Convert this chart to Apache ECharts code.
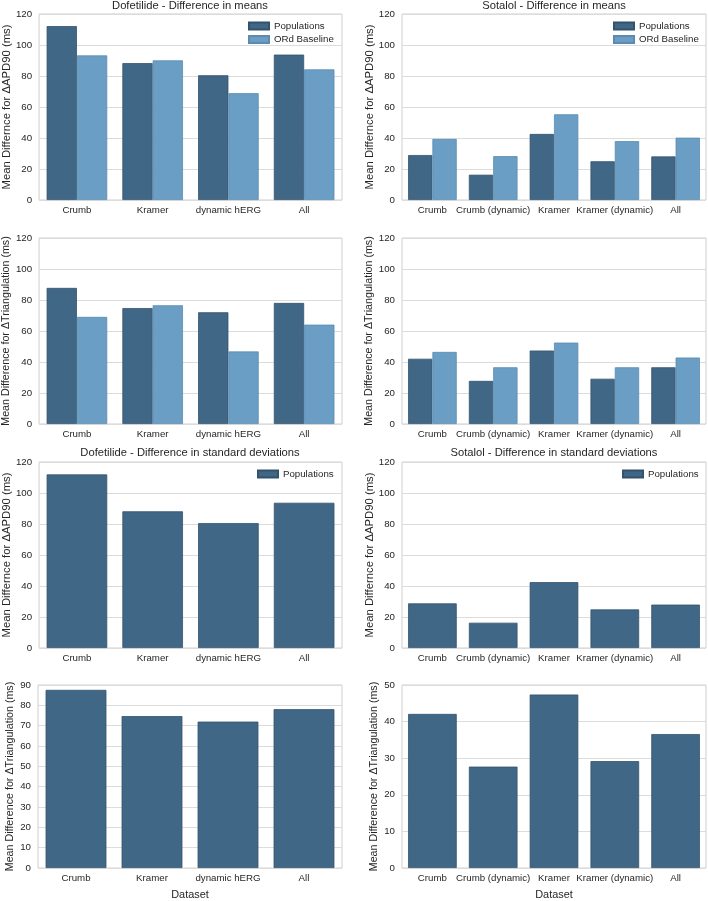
<!DOCTYPE html>
<html>
<head>
<meta charset="utf-8">
<script src="https://cdn.jsdelivr.net/npm/echarts@6/dist/echarts.min.js"></script>
<style>
html,body{margin:0;padding:0;background:#fff;}
#main{width:708px;height:901px;}
</style>
</head>
<body>
<div id="main"></div>
<script>
// ---- data ----
const dofCats = ['Crumb', 'Kramer', 'dynamic hERG', 'All'];
const sotCats = ['Crumb', 'Crumb (dynamic)', 'Kramer', 'Kramer (dynamic)', 'All'];

const dofApdPop = [112.2, 88.3, 80.5, 93.8];
const dofApdOrd = [93.3, 90.1, 68.9, 84.3];
const sotApdPop = [29.0, 16.3, 42.6, 25.0, 28.1];
const sotApdOrd = [39.4, 28.3, 55.3, 38.0, 40.2];

const dofTriPop = [87.8, 74.8, 72.1, 78.1];
const dofTriOrd = [69.1, 76.6, 46.8, 64.1];
const sotTriPop = [42.1, 27.8, 47.4, 29.2, 36.6];
const sotTriOrd = [46.5, 36.6, 52.5, 36.6, 42.9];

const dofApdStd = [112.0, 88.2, 80.6, 93.7];
const sotApdStd = [28.8, 16.3, 42.5, 24.9, 28.0];
const dofTriStd = [87.6, 74.7, 72.0, 78.1];
const sotTriStd = [42.1, 27.7, 47.4, 29.2, 36.6];

const titles = ['Dofetilide - Difference in means', 'Sotalol - Difference in means',
                'Dofetilide - Difference in standard deviations', 'Sotalol - Difference in standard deviations'];
const yNameApd = 'Mean Differnce for \u0394APD90 (ms)';
const yNameTri = 'Mean Difference for \u0394Triangulation (ms)';
const seriesNames = ['Populations', 'ORd Baseline'];

// ---- style ----
const FONT = '"Liberation Sans", Arial, sans-serif';
const TXT = '#262626';
const DARK = '#416786';
const LIGHT = '#6a9ec5';
const DARK_EDGE = '#33536d';
const LIGHT_EDGE = '#5b8bb0';

const colLeft = [38, 402];
const colWidth = 304;
const rowTop = [14, 238, 462, 685];
const rowH = [186, 186, 186, 187];
const titleCenter = [6.5, null, 453.5, null];

const panels = [
  {r:0,c:0,cats:dofCats,data:[dofApdPop,dofApdOrd],max:120,interval:20,yName:yNameApd,nameSize:11.3,title:titles[0],legend:248,nameGap:25},
  {r:0,c:1,cats:sotCats,data:[sotApdPop,sotApdOrd],max:120,interval:20,yName:yNameApd,nameSize:11.3,title:titles[1],legend:613,nameGap:25},
  {r:1,c:0,cats:dofCats,data:[dofTriPop,dofTriOrd],max:120,interval:20,yName:yNameTri,nameSize:10.7,nameGap:25},
  {r:1,c:1,cats:sotCats,data:[sotTriPop,sotTriOrd],max:120,interval:20,yName:yNameTri,nameSize:10.7,nameGap:25},
  {r:2,c:0,cats:dofCats,data:[dofApdStd],max:120,interval:20,yName:yNameApd,nameSize:11.3,title:titles[2],legend:257,nameGap:25},
  {r:2,c:1,cats:sotCats,data:[sotApdStd],max:120,interval:20,yName:yNameApd,nameSize:11.3,title:titles[3],legend:622,nameGap:25},
  {r:3,c:0,cats:dofCats,data:[dofTriStd],max:90,interval:10,yName:yNameTri,nameSize:10.7,xName:'Dataset',nameGap:22},
  {r:3,c:1,cats:sotCats,data:[sotTriStd],max:50,interval:10,yName:yNameTri,nameSize:10.7,xName:'Dataset',nameGap:22}
];

const option = {
  backgroundColor: '#fff',
  animation: false,
  textStyle: {fontFamily: FONT, color: TXT},
  title: [], grid: [], xAxis: [], yAxis: [], series: [], legend: []
};

panels.forEach((p, i) => {
  const left = colLeft[p.c], top = rowTop[p.r], h = rowH[p.r];
  option.grid.push({left: left, top: top, width: colWidth, height: h, show: true,
    borderColor: '#cfcfcf', borderWidth: 1, backgroundColor: 'transparent', containLabel: false});
  option.xAxis.push({
    type: 'category', gridIndex: i, data: p.cats,
    axisLine: {show: false}, axisTick: {show: false},
    axisLabel: {fontSize: 9.7, color: TXT, margin: 5, interval: 0, fontFamily: FONT},
    splitLine: {show: false},
    name: p.xName || '', nameLocation: 'middle', nameGap: 21,
    nameTextStyle: {fontSize: 10.9, color: TXT, fontFamily: FONT}
  });
  option.yAxis.push({
    type: 'value', gridIndex: i, min: 0, max: p.max, interval: p.interval,
    axisLine: {show: false}, axisTick: {show: false},
    axisLabel: {fontSize: 9.7, color: TXT, margin: 7, fontFamily: FONT},
    splitLine: {show: true, lineStyle: {color: '#dcdcdc', width: 1}},
    name: p.yName, nameLocation: 'middle', nameGap: p.nameGap,
    nameTextStyle: {fontSize: p.nameSize, color: TXT, fontFamily: FONT}
  });
  if (p.title) {
    option.title.push({text: p.title, left: left + colWidth / 2, top: titleCenter[p.r] - 6, textAlign: 'center',
      padding: 0,
      textStyle: {fontSize: 11.2, fontWeight: 'normal', color: TXT, fontFamily: FONT}});
  }
  p.data.forEach((d, k) => {
    option.series.push({
      type: 'bar', name: seriesNames[k], xAxisIndex: i, yAxisIndex: i, data: d,
      barGap: '0%', barCategoryGap: '20%',
      itemStyle: {color: k === 0 ? DARK : LIGHT, borderColor: k === 0 ? DARK_EDGE : LIGHT_EDGE, borderWidth: 0.8},
      emphasis: {disabled: true}
    });
  });
  if (p.legend) {
    option.legend.push({
      show: true, orient: 'vertical', left: p.legend, top: top + 6.5, padding: 0,
      data: seriesNames.slice(0, p.data.length).map(n => ({name: n, icon: 'rect'})),
      itemWidth: 20, itemHeight: 7, itemGap: 2.6,
      textStyle: {fontSize: 9.7, color: TXT, fontFamily: FONT, lineHeight: 11},
      selectedMode: false
    });
  }
});

const chart = echarts.init(document.getElementById('main'), null, {renderer: 'canvas'});
chart.setOption(option);
</script>
</body>
</html>
